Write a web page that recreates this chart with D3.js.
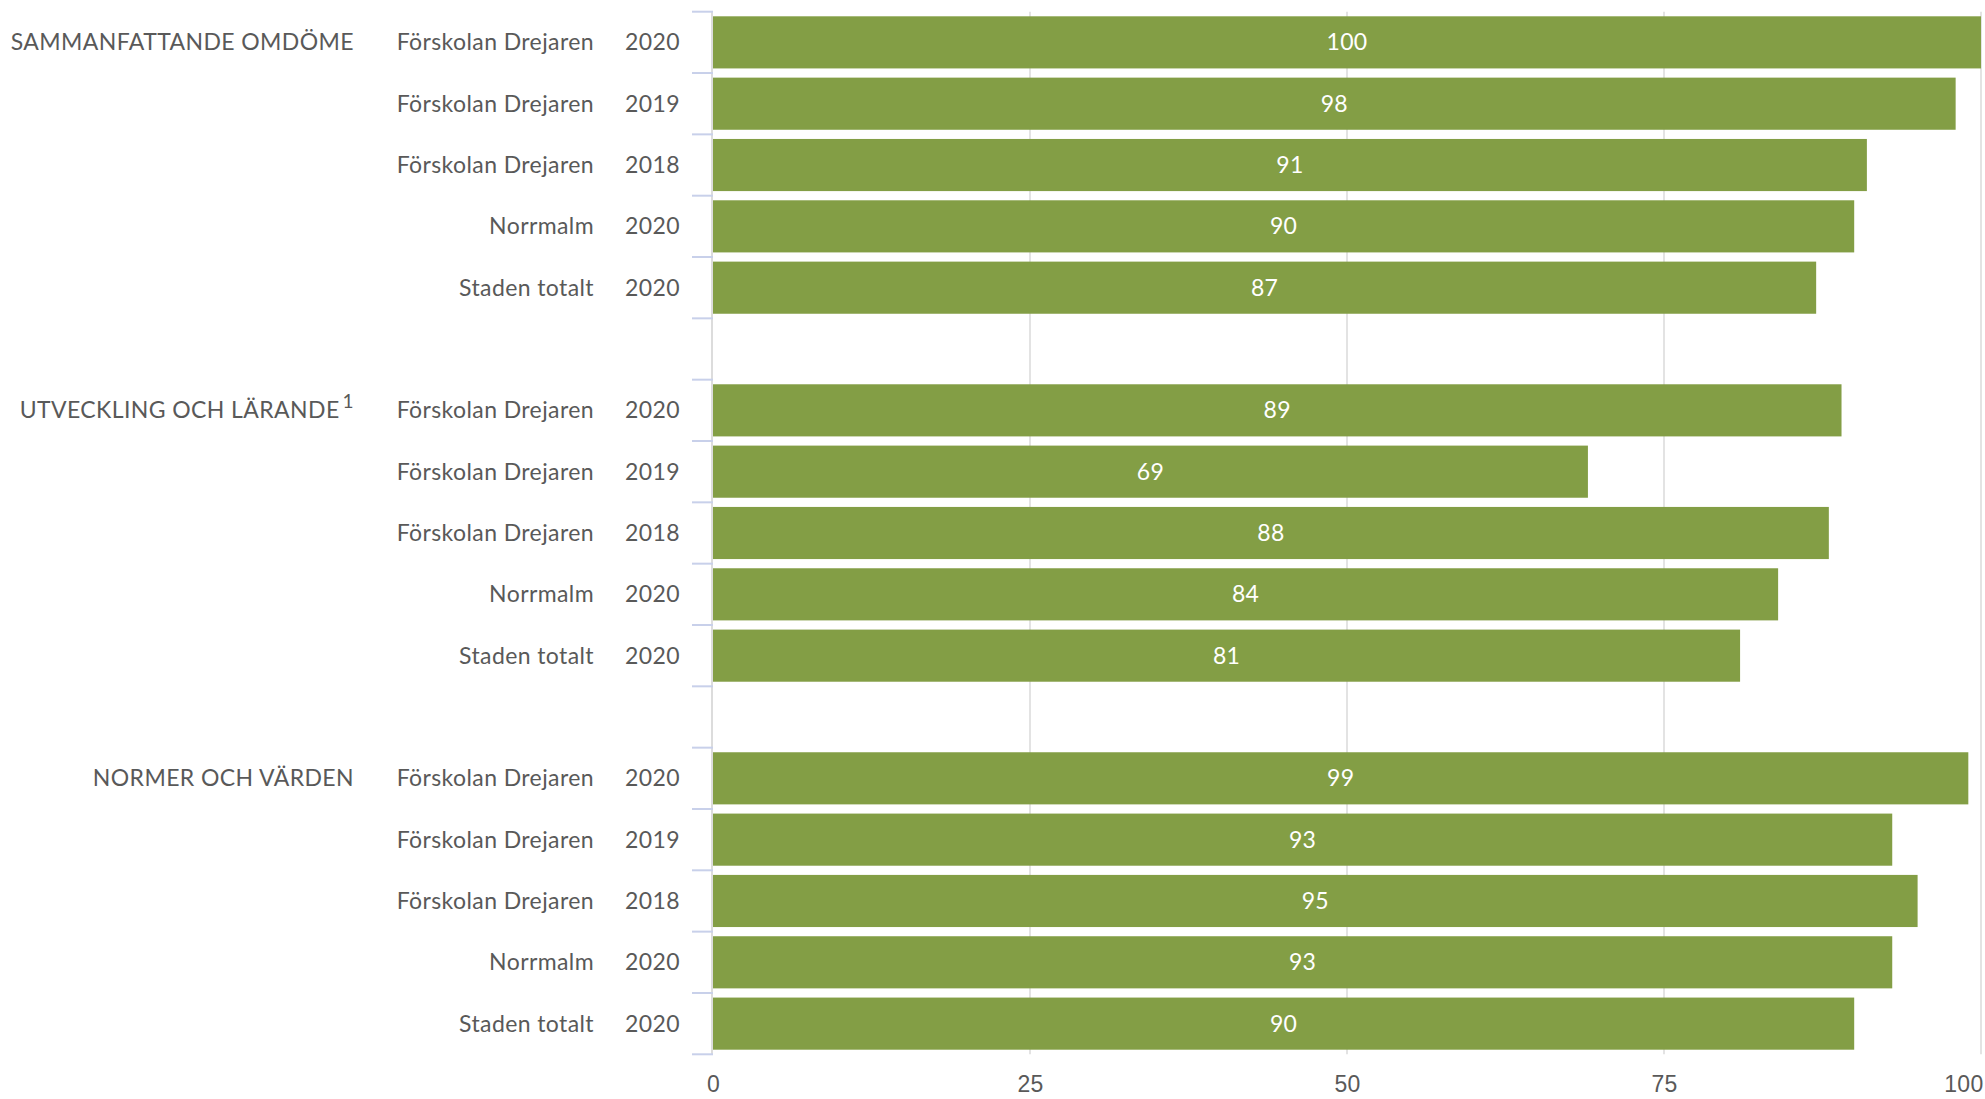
<!DOCTYPE html>
<html>
<head>
<meta charset="utf-8">
<script src="https://cdn.jsdelivr.net/npm/d3@7"></script>
<style>
	html, body { margin: 0; padding: 0; background: #fff; }
	svg { display: block; font-family: Lato, 'Open Sans', sans-serif; }
	.lbl { fill: #595959; font-size: 23px; letter-spacing: 0.4px; }
	.val { fill: #fff; font-size: 23px; letter-spacing: 0.3px; }
	.tick text { fill: #595959; font-size: 23px; letter-spacing: 0.3px; }
</style>
</head>
<body>
<svg id="chart"></svg>
<script>
const groups = ['SAMMANFATTANDE OMDÖME', 'UTVECKLING OCH LÄRANDE', 'NORMER OCH VÄRDEN'];
const groupNotes = ['', '1', ''];
const units = ['Förskolan Drejaren', 'Förskolan Drejaren', 'Förskolan Drejaren', 'Norrmalm', 'Staden totalt'];
const years = ['2020', '2019', '2018', '2020', '2020'];
const values = [
	[100, 98, 91, 90, 87],
	[89, 69, 88, 84, 81],
	[99, 93, 95, 93, 90]
];
const xTicks = [0, 25, 50, 75, 100];

const W = 1985;
const H = 1099;
const X0 = 713;
const X1 = 1981;
const Y0 = 11.7;
const Y1 = 1054.3;

const $svg = d3.select('#chart').attr('width', W).attr('height', H);

// one row per bar, plus an empty row between groups
const rows = [];
groups.forEach((g, gi) => {
	units.forEach((u, i) => {
		rows.push({ key: `${gi}-${i}`, group: g, gi, i, unit: u, year: years[i], value: values[gi][i] });
	});
	if (gi < groups.length - 1) rows.push({ key: `gap${gi}`, gap: true });
});

const x = d3.scaleLinear().domain([0, 100]).range([X0, X1]);
const y = d3
	.scaleBand()
	.domain(rows.map(d => d.key))
	.range([Y0, Y1])
	.paddingInner(0.15)
	.paddingOuter(0.075);

const step = y.step();
const mid = d => y(d.key) + y.bandwidth() / 2;

// vertical grid
$svg
	.append('g')
	.selectAll('line')
	.data(xTicks.slice(1))
	.join('line')
	.attr('x1', d => x(d))
	.attr('x2', d => x(d))
	.attr('y1', Y0)
	.attr('y2', Y1)
	.attr('stroke', '#e3e3e3')
	.attr('stroke-width', 2);

// left axis line and boundary ticks
$svg
	.append('line')
	.attr('x1', X0 - 1)
	.attr('x2', X0 - 1)
	.attr('y1', Y0)
	.attr('y2', Y1)
	.attr('stroke', '#dcdcdc')
	.attr('stroke-width', 2);

$svg
	.append('g')
	.selectAll('line')
	.data(d3.range(rows.length + 1))
	.join('line')
	.attr('x1', X0 - 21)
	.attr('x2', X0)
	.attr('y1', i => Y0 + i * step)
	.attr('y2', i => Y0 + i * step)
	.attr('stroke', '#c8d0ea')
	.attr('stroke-width', 2);

const data = rows.filter(d => !d.gap);

// bars
$svg
	.append('g')
	.selectAll('rect')
	.data(data)
	.join('rect')
	.attr('x', x(0))
	.attr('y', d => y(d.key))
	.attr('width', d => x(d.value) - x(0))
	.attr('height', y.bandwidth())
	.attr('fill', '#839e45');

// value labels
$svg
	.append('g')
	.selectAll('text')
	.data(data)
	.join('text')
	.attr('class', 'val')
	.attr('x', d => (x(0) + x(d.value)) / 2)
	.attr('y', mid)
	.attr('dy', '0.35em')
	.attr('text-anchor', 'middle')
	.text(d => d.value);

// unit and year labels
const $lab = $svg.append('g');
$lab
	.selectAll('text.unit')
	.data(data)
	.join('text')
	.attr('class', 'lbl unit')
	.attr('x', 594)
	.attr('y', mid)
	.attr('dy', '0.35em')
	.attr('text-anchor', 'end')
	.text(d => d.unit);

$lab
	.selectAll('text.year')
	.data(data)
	.join('text')
	.attr('class', 'lbl year')
	.attr('x', 680)
	.attr('y', mid)
	.attr('dy', '0.35em')
	.attr('text-anchor', 'end')
	.text(d => d.year);

// group labels
const $grp = $lab
	.selectAll('text.group')
	.data(groups)
	.join('text')
	.attr('class', 'lbl group')
	.attr('x', 354)
	.attr('y', (d, gi) => y(`${gi}-0`) + y.bandwidth() / 2)
	.attr('dy', '0.35em')
	.attr('text-anchor', 'end');

$grp.append('tspan').text(d => d);
$grp
	.filter((d, gi) => groupNotes[gi])
	.append('tspan')
	.attr('dx', 3)
	.attr('dy', -10)
	.attr('font-size', 19)
	.text(d => groupNotes[groups.indexOf(d)]);

// bottom axis
const axis = d3
	.axisBottom(x)
	.tickValues(xTicks)
	.tickSize(0)
	.tickPadding(0);

$svg
	.append('g')
	.attr('transform', `translate(0, ${1076})`)
	.call(axis)
	.call(g => g.select('.domain').remove())
	.call(g =>
		g
			.selectAll('.tick')
			.filter(d => d === 100)
			.select('text')
			.attr('text-anchor', 'end')
			.attr('x', 2)
	);
</script>
</body>
</html>
